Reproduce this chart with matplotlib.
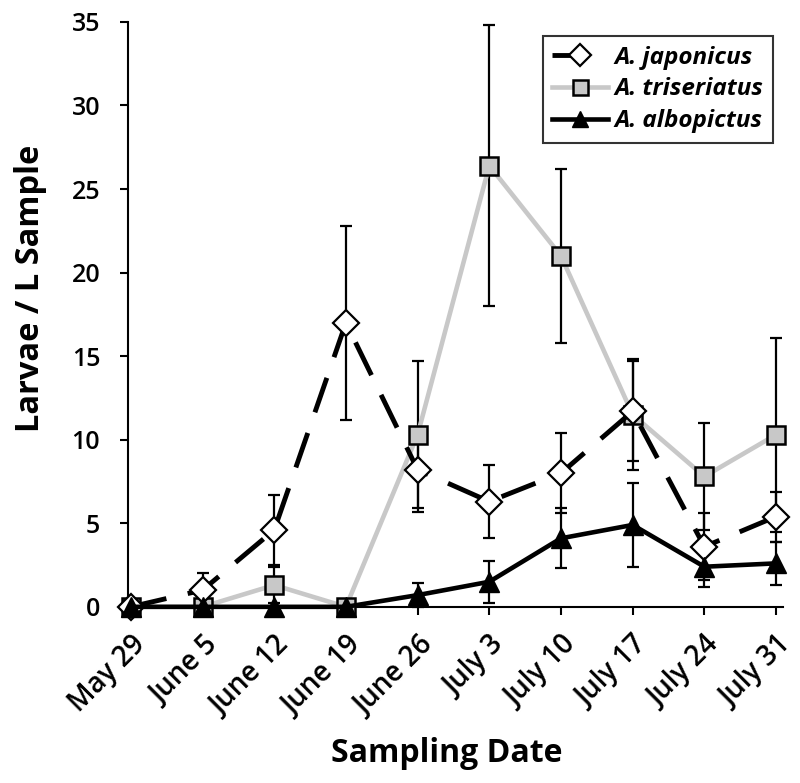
import matplotlib
matplotlib.use("Agg")
import matplotlib.pyplot as plt
import numpy as np

dates = ["May 29", "June 5", "June 12", "June 19", "June 26", "July 3",
         "July 10", "July 17", "July 24", "July 31"]

japonicus = [0, 1.0, 4.6, 17.0, 8.2, 6.3, 8.0, 11.7, 3.6, 5.4]
japonicus_err = [0, 1.0, 2.1, 5.8, 2.5, 2.2, 2.4, 3.0, 2.0, 1.5]

triseriatus = [0, 0, 1.3, 0, 10.3, 26.4, 21.0, 11.5, 7.8, 10.3]
triseriatus_err = [0, 0, 1.1, 0, 4.4, 8.4, 5.2, 3.3, 3.2, 5.8]

albopictus = [0, 0, 0, 0, 0.7, 1.5, 4.1, 4.9, 2.4, 2.6]
albopictus_err = [0, 0, 0, 0, 0.7, 1.25, 1.8, 2.5, 1.2, 1.3]

plt.rcParams['font.family'] = ['Open Sans', 'DejaVu Sans']

fig = plt.figure(figsize=(8, 7.83), dpi=100)
ax = fig.add_axes([0.16, 0.225, 0.819, 0.747])
x = np.arange(len(dates))

# error bars
for vals, errs in [(triseriatus, triseriatus_err), (japonicus, japonicus_err), (albopictus, albopictus_err)]:
    ax.errorbar(x, vals, yerr=errs, fmt='none', ecolor='black', elinewidth=1.6,
                capsize=4.5, capthick=1.6, zorder=2, clip_on=False)

ax.plot(x, triseriatus, color='#c8c8c8', lw=3.3, marker='s', markersize=13.5,
        markerfacecolor='#c8c8c8', markeredgecolor='black', markeredgewidth=1.8,
        label='A. triseriatus', zorder=3, clip_on=False)
ax.plot(x, japonicus, color='black', lw=3.5, dashes=(7.5, 4.5), marker='D', markersize=13.5,
        markerfacecolor='white', markeredgecolor='black', markeredgewidth=1.6,
        label='A. japonicus', zorder=4, clip_on=False)
ax.plot(x, albopictus, color='black', lw=3.3, marker='^', markersize=14,
        markerfacecolor='black', markeredgecolor='black',
        label='A. albopictus', zorder=5, clip_on=False)

ax.set_ylim(0, 35)
ax.set_xlim(-0.04, 9.1)
ax.set_yticks(range(0, 36, 5))
ax.set_xticks(x)
ax.set_xticklabels(dates, rotation=45, ha='right', rotation_mode='anchor')
ax.tick_params(axis='both', width=1.5, length=6, direction='out')
ax.tick_params(axis='y', pad=14, labelsize=18)
ax.tick_params(axis='x', pad=11, labelsize=20)
for lab in ax.get_xticklabels() + ax.get_yticklabels():
    lab.set_fontweight('semibold')
ax.spines['top'].set_visible(False)
ax.spines['right'].set_visible(False)
ax.spines['left'].set_linewidth(1.5)
ax.spines['bottom'].set_linewidth(1.5)

ax.set_ylabel('Larvae / L Sample', fontsize=23.5, fontweight='bold')
ax.set_xlabel('Sampling Date', fontsize=23, fontweight='bold')
ax.yaxis.set_label_coords(-0.124, 0.545)
ax.xaxis.set_label_coords(0.486, -0.222)

handles, labels = ax.get_legend_handles_labels()
order = [1, 0, 2]
leg = ax.legend([handles[i] for i in order], [labels[i] for i in order],
                loc='upper right', bbox_to_anchor=(1.003, 0.997),
                prop={'size': 17.5, 'weight': 'bold', 'style': 'italic'},
                frameon=True, fancybox=False, edgecolor='black', markerscale=0.8,
                handlelength=2.3, handletextpad=0.25, borderpad=0.4, labelspacing=0.32)
leg.get_frame().set_linewidth(1.5)

fig.savefig('out.png', dpi=100)
